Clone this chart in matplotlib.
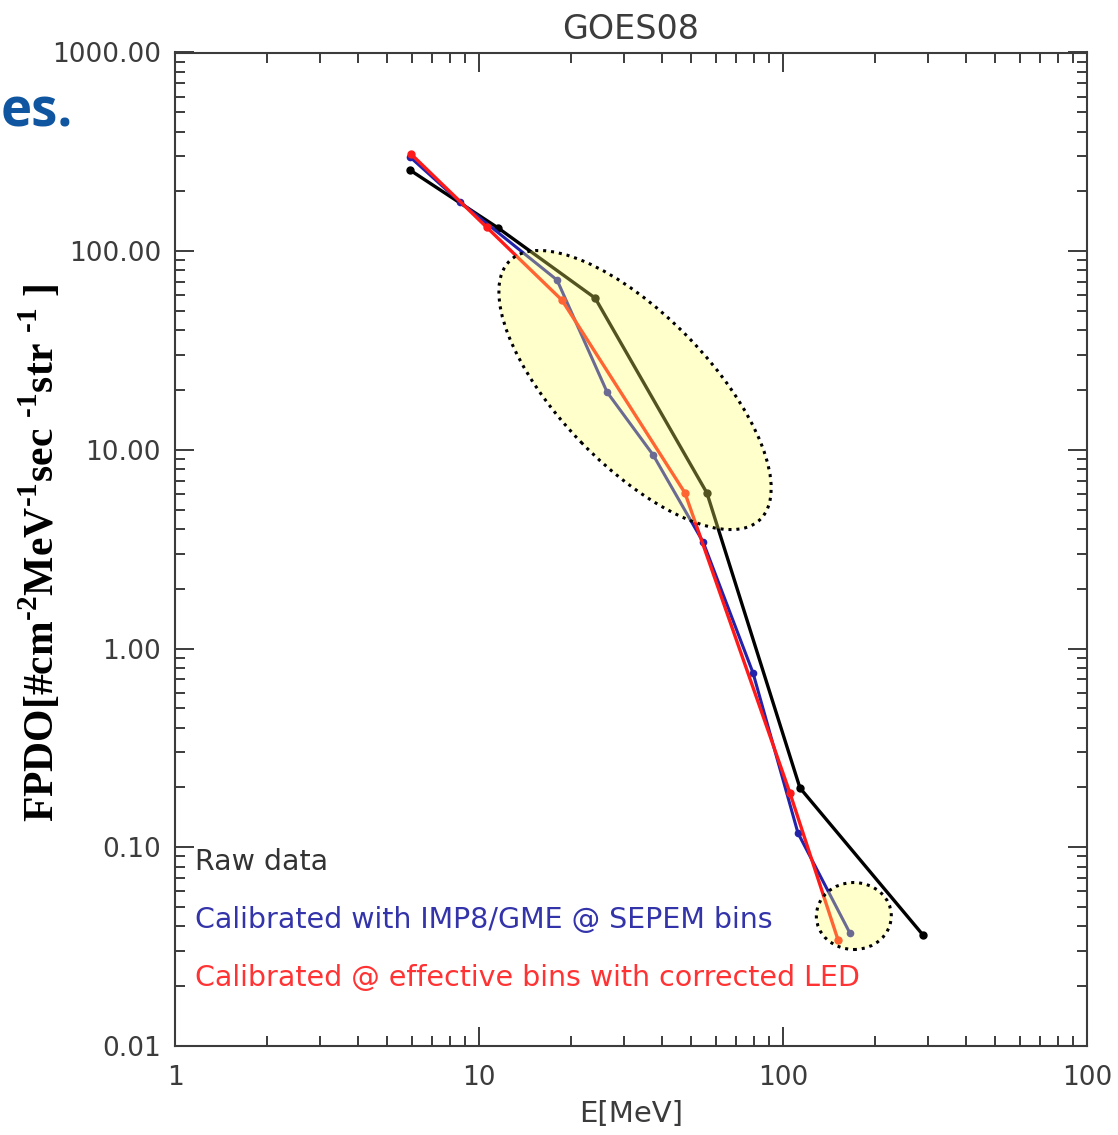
import matplotlib
matplotlib.use("Agg")
import matplotlib.pyplot as plt
from matplotlib.patches import Ellipse
from matplotlib.transforms import IdentityTransform, ScaledTranslation
from matplotlib.ticker import NullFormatter

plt.rcParams['mathtext.fontset'] = 'custom'
plt.rcParams['mathtext.rm'] = 'Liberation Serif:bold'
plt.rcParams['mathtext.bf'] = 'Liberation Serif:bold'

# energies [MeV] and fluxes
raw_e = [5.93, 11.55, 24.1, 56.2, 113.7, 288.7]
raw_f = [256, 131, 58.1, 6.07, 0.199, 0.0362]

imp8_e = [5.93, 8.66, 18.06, 26.4, 37.4, 54.6, 79.7, 112, 166]
imp8_f = [298, 177, 71.6, 19.5, 9.43, 3.44, 0.754, 0.118, 0.0370]

led_e = [5.98, 10.6, 18.75, 47.6, 105.4, 151.7]
led_f = [308, 132, 56.7, 6.07, 0.1876, 0.0342]

y_ticks = [1000, 100, 10, 1, 0.1, 0.01]
y_labels = ['1000.00', '100.00', '10.00', '1.00', '0.10', '0.01']
x_ticks = [1, 10, 100, 1000]
# the last label is cut by the image edge in the original, only "100" shows
x_labels = ['1', '10', '100', '100']

# highlighted regions: centre (E, flux)
big_zone = (32.6, 20.0)
small_zone = (171, 0.0451)

gray = '#3c3c3c'
tick_font = dict(family='DejaVu Sans', size=19, color=gray)

fig = plt.figure(figsize=(11.18, 11.35), dpi=100)
ax = fig.add_axes([175/1118, 89/1135, 912/1118, 993.5/1135])

ax.plot(raw_e, raw_f, color='black', lw=2.4, marker='o', ms=5)
ax.plot(imp8_e, imp8_f, color='#2222aa', lw=2.2, marker='o', ms=4.5)
ax.plot(led_e, led_f, color='#ff1a1a', lw=2.4, marker='o', ms=5)

ax.set_xscale('log')
ax.set_yscale('log')
ax.set_xlim(1, 1000)
ax.set_ylim(0.01, 1000)

ax.set_xticks(x_ticks)
ax.set_xticklabels(x_labels, **tick_font)
ax.set_yticks(y_ticks)
ax.set_yticklabels(y_labels, **tick_font)
ax.xaxis.set_minor_formatter(NullFormatter())
ax.yaxis.set_minor_formatter(NullFormatter())

last = ax.get_xticklabels()[-1]
last.set_transform(last.get_transform() + ScaledTranslation(-0.1, 0, fig.dpi_scale_trans))

ax.tick_params(which='both', direction='in', top=True, right=True,
               color=gray, width=1.4)
ax.tick_params(which='major', length=14, pad=10)
ax.tick_params(which='minor', length=7.5)
ax.tick_params(axis='x', which='major', pad=14)
for s in ax.spines.values():
    s.set_color(gray)
    s.set_linewidth(1.5)

ax.set_title('GOES08', fontsize=24, color=gray, family='DejaVu Sans', pad=10)
ax.set_xlabel('E[MeV]', fontsize=21, color=gray, family='DejaVu Sans', labelpad=6)

ax.text(0.022, 0.185, 'Raw data', transform=ax.transAxes, fontsize=20.5,
        color='#333333', va='center')
ax.text(0.022, 0.127, 'Calibrated with IMP8/GME @ SEPEM bins', transform=ax.transAxes,
        fontsize=20.5, color='#3333aa', va='center')
ax.text(0.022, 0.0685, 'Calibrated @ effective bins with corrected LED',
        transform=ax.transAxes, fontsize=20.5, color='#ff3333', va='center')

# yellow highlight ellipses drawn over the curves
for zone, w, h, ang in [(big_zone, 360, 150, -46), (small_zone, 75, 67, 0)]:
    c = ax.transData.transform(zone)
    ax.add_patch(Ellipse(c, w, h, angle=ang, transform=IdentityTransform(),
                         facecolor=(1, 1, 0.4, 0.33), edgecolor='black',
                         lw=2.2, linestyle=(0, (1, 1.6)), zorder=5))

fig.text(40/1118, 1 - 553/1135,
         r'FPDO[#cm$^{\text{-2}}$MeV$^{\text{-1}}$sec $^{\text{-1}}$str $^{\text{-1}}$ ]',
         rotation=90, fontsize=30, family='Liberation Serif', weight='bold',
         ha='center', va='center')

fig.text(0.001, 1 - 112/1135, 'es.', fontsize=38, family='Open Sans',
         weight='bold', color='#0f55a0', va='center', ha='left')

fig.savefig('out.png', dpi=100)
